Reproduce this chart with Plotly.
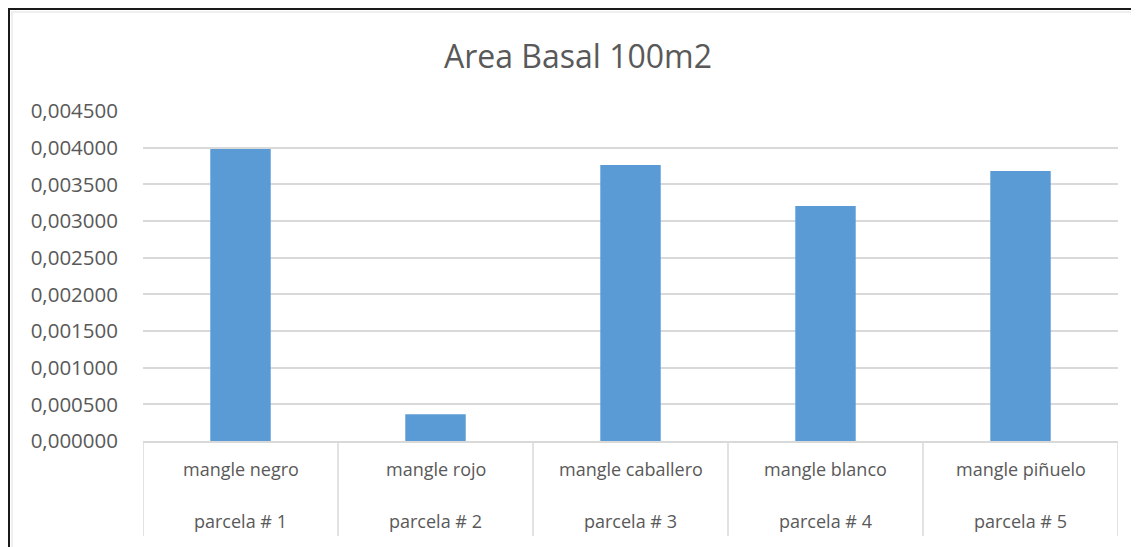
import plotly.graph_objects as go

species = ["mangle negro", "mangle rojo", "mangle caballero", "mangle blanco", "mangle piñuelo"]
parcelas = ["parcela # 1", "parcela # 2", "parcela # 3", "parcela # 4", "parcela # 5"]
area_basal = [0.003982, 0.000365, 0.003764, 0.003205, 0.003682]
y_ticks = [0.0, 0.0005, 0.001, 0.0015, 0.002, 0.0025, 0.003, 0.0035, 0.004, 0.0045]

OFF = 8  # page body margin
W, H = 1139 - OFF, 547 - OFF
# plot area in page pixels: x 143..1118, y 111..441
L, R, T, B = 143 - OFF, 1139 - 1118, 111 - OFF, 547 - 441
pw, ph = W - L - R, H - T - B

def px(x):
    return (x - OFF - L) / pw

def py(y):
    return (H - B - (y - OFF)) / ph

TXT = "#595959"
GRID = "#d9d9d9"
FONT = "Open Sans"

fig = go.Figure(go.Bar(
    x=species, y=area_basal, marker=dict(color="#5b9bd5", line=dict(width=0)),
))

annotations = []
for s, p in zip(species, parcelas):
    annotations.append(dict(x=s, xref="x", y=py(469), yref="paper", text=s, showarrow=False,
                            font=dict(family=FONT, size=18, color=TXT), xanchor="center", yanchor="middle"))
    annotations.append(dict(x=s, xref="x", y=py(521), yref="paper", text=p, showarrow=False,
                            font=dict(family=FONT, size=18, color=TXT), xanchor="center", yanchor="middle"))

shapes = []
for i in range(len(species) + 1):
    shapes.append(dict(type="line", xref="x", yref="paper", x0=i - 0.5, x1=i - 0.5,
                       y0=0, y1=py(536), line=dict(color=GRID, width=1.5)))
# outer frame (top and left edges, black with light inner line)
shapes.append(dict(type="line", xref="paper", yref="paper", x0=px(8), x1=px(1145), y0=py(9), y1=py(9),
                   line=dict(color="#1a1a1a", width=2)))
shapes.append(dict(type="line", xref="paper", yref="paper", x0=px(9), x1=px(9), y0=py(9), y1=py(560),
                   line=dict(color="#1a1a1a", width=2)))
shapes.append(dict(type="line", xref="paper", yref="paper", x0=px(11), x1=px(1145), y0=py(12), y1=py(12),
                   line=dict(color="#e0e0e0", width=1)))
shapes.append(dict(type="line", xref="paper", yref="paper", x0=px(12), x1=px(12), y0=py(12), y1=py(560),
                   line=dict(color="#e0e0e0", width=1)))

fig.update_layout(
    width=W, height=H,
    margin=dict(l=L, r=R, t=T, b=B),
    paper_bgcolor="white", plot_bgcolor="white",
    separators=",.",
    title=dict(text="Area Basal 100m2", xref="container", x=(578 - OFF) / W, xanchor="center",
               yref="container", y=1 - (57 - OFF) / H, yanchor="middle",
               font=dict(family=FONT, size=32, color=TXT)),
    bargap=0.69,
    showlegend=False,
    annotations=annotations,
    shapes=shapes,
    xaxis=dict(showticklabels=False, showgrid=False, showline=True, linecolor=GRID, linewidth=1.5,
               ticks="", range=[-0.5, len(species) - 0.5], fixedrange=True),
    yaxis=dict(range=[0, 0.0045], tickvals=y_ticks, tickformat=".6f", showgrid=True, gridcolor=GRID,
               gridwidth=1.5, zeroline=False, showline=False, ticks="", ticklabelstandoff=24,
               tickfont=dict(family=FONT, size=20.5, color=TXT)),
)

fig.write_html("out.html")
